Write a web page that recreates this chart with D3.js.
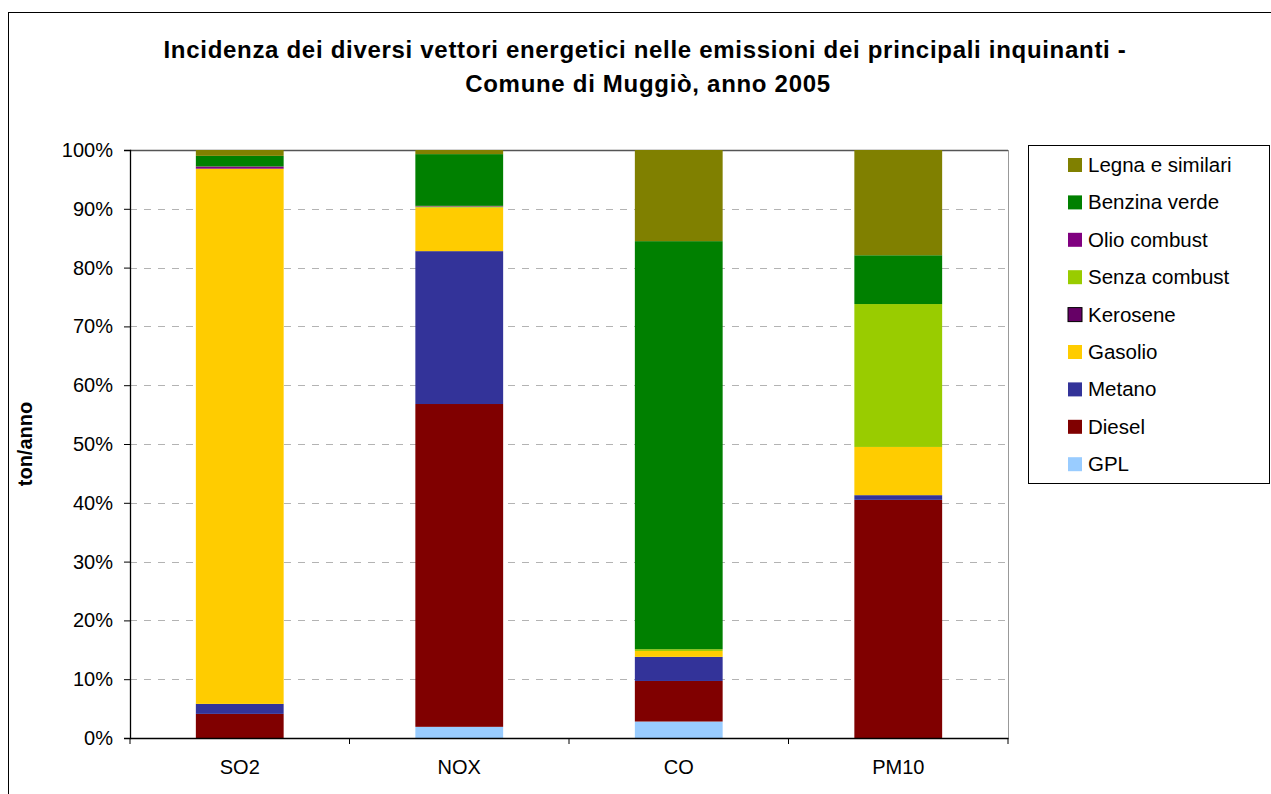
<!DOCTYPE html>
<html>
<head>
<meta charset="utf-8">
<script src="https://cdn.jsdelivr.net/npm/d3@7"></script>
<style>
  html, body { margin: 0; padding: 0; background: #fff; }
  svg { display: block; font-family: "Liberation Sans", Arial, sans-serif; }
</style>
</head>
<body>
<svg id="chart" width="1271" height="794"></svg>
<script>
// ---- Data ----
const categories = ["SO2", "NOX", "CO", "PM10"];
// series in stacking order (bottom -> top), values in % of the column
const seriesNames = ["GPL", "Diesel", "Metano", "Gasolio", "Kerosene", "Senza combust", "Olio combust", "Benzina verde", "Legna e similari"];
const GPL            = [0.0,  1.9,  2.8,  0.0];
const Diesel         = [4.1, 54.9,  6.9, 40.5];
const Metano         = [1.7, 26.0,  4.1,  0.8];
const Gasolio        = [91.0, 7.4,  1.0,  8.2];
const Kerosene       = [0.1,  0.0,  0.0,  0.0];
const SenzaCombust   = [0.0,  0.2,  0.3, 24.3];
const OlioCombust    = [0.3,  0.1,  0.0,  0.0];
const BenzinaVerde   = [1.8,  8.8, 69.4,  8.3];
const LegnaSimilari  = [1.0,  0.7, 15.5, 17.9];
const yTicks = [0, 0.1, 0.2, 0.3, 0.4, 0.5, 0.6, 0.7, 0.8, 0.9, 1.0];

const seriesValues = [GPL, Diesel, Metano, Gasolio, Kerosene, SenzaCombust, OlioCombust, BenzinaVerde, LegnaSimilari];
const colors = {
  "GPL": "#99ccff",
  "Diesel": "#800000",
  "Metano": "#333399",
  "Gasolio": "#ffcc00",
  "Kerosene": "#660066",
  "Senza combust": "#99cc00",
  "Olio combust": "#800080",
  "Benzina verde": "#008000",
  "Legna e similari": "#808000"
};

// ---- Build table ----
const table = categories.map((c, i) => {
  const row = { cat: c };
  seriesNames.forEach((s, j) => row[s] = seriesValues[j][i]);
  return row;
});

const svg = d3.select("#chart");

// outer frame
svg.append("rect").attr("x", 8.5).attr("y", 12.5).attr("width", 1400).attr("height", 1000)
  .attr("fill", "#fff").attr("stroke", "#000").attr("stroke-width", 1);

const plot = { left: 130, right: 1008, top: 150, bottom: 738 };

const x = d3.scaleBand().domain(categories).range([plot.left, plot.right]).padding(0);
const y = d3.scaleLinear().domain([0, 1]).range([plot.bottom, plot.top]);

const stack = d3.stack().keys(seriesNames).offset(d3.stackOffsetExpand);
const stacked = stack(table);

// gridlines
svg.append("g").selectAll("line").data(yTicks.filter(t => t > 0 && t < 1)).join("line")
  .attr("x1", plot.left).attr("x2", plot.right)
  .attr("y1", d => Math.round(y(d)) + 0.5).attr("y2", d => Math.round(y(d)) + 0.5)
  .attr("stroke", "#b3b3b3").attr("stroke-width", 1.2).attr("stroke-dasharray", "7,7");

// top & right plot border
svg.append("line").attr("x1", plot.left).attr("x2", plot.right).attr("y1", plot.top + 0.5).attr("y2", plot.top + 0.5)
  .attr("stroke", "#555").attr("stroke-width", 1.3);
svg.append("line").attr("x1", plot.right + 0.5).attr("x2", plot.right + 0.5).attr("y1", plot.top).attr("y2", plot.bottom)
  .attr("stroke", "#999").attr("stroke-width", 1);

// bars
const barFrac = 0.4;
const barW = x.bandwidth() * barFrac;
svg.append("g").selectAll("g").data(stacked).join("g")
  .attr("fill", d => colors[d.key])
  .selectAll("rect").data(d => d).join("rect")
  .attr("x", d => x(d.data.cat) + (x.bandwidth() - barW) / 2)
  .attr("width", barW)
  .attr("y", d => y(d[1]))
  .attr("height", d => Math.max(0, y(d[0]) - y(d[1])));

// y axis
const yAxis = d3.axisLeft(y).tickValues(yTicks).tickFormat(d3.format(".0%")).tickSize(6).tickPadding(11);
const gy = svg.append("g").attr("transform", `translate(${plot.left},0)`).call(yAxis);
gy.select(".domain").attr("stroke", "#000").attr("stroke-width", 1.3);
gy.selectAll(".tick line").attr("stroke", "#000");
gy.selectAll(".tick text").attr("font-size", 20).attr("fill", "#000")
  .attr("font-family", "Liberation Sans, Arial, sans-serif");

// x axis
const xAxis = d3.axisBottom(x).tickSize(0).tickPadding(22);
const gx = svg.append("g").attr("transform", `translate(0,${plot.bottom})`).call(xAxis);
gx.select(".domain").attr("stroke", "#000").attr("stroke-width", 1.5);
gx.selectAll(".tick text").attr("font-size", 20).attr("fill", "#000")
  .attr("font-family", "Liberation Sans, Arial, sans-serif");
// category boundary ticks
const bounds = categories.map(c => x(c)).concat([x(categories[categories.length - 1]) + x.bandwidth()]);
gx.append("g").selectAll("line").data(bounds).join("line")
  .attr("x1", d => d).attr("x2", d => d).attr("y1", 0).attr("y2", 6)
  .attr("stroke", "#000").attr("stroke-width", 1);

// y axis title
svg.append("text").attr("transform", `translate(32,${(plot.top + plot.bottom) / 2}) rotate(-90)`)
  .attr("text-anchor", "middle").attr("font-weight", "bold").attr("font-size", 20)
  .text("ton/anno");

// title
const title = svg.append("text").attr("text-anchor", "middle").attr("font-weight", "bold")
  .attr("font-size", 24).attr("letter-spacing", "0.7px");
title.append("tspan").attr("x", 645).attr("y", 58)
  .text("Incidenza dei diversi vettori energetici nelle emissioni dei principali inquinanti -");
title.append("tspan").attr("x", 648).attr("y", 92)
  .text("Comune di Muggiò, anno 2005");

// legend
const lg = svg.append("g");
lg.append("rect").attr("x", 1028.5).attr("y", 145.5).attr("width", 241).attr("height", 338)
  .attr("fill", "#fff").attr("stroke", "#000").attr("stroke-width", 1);
const legendOrder = seriesNames.slice().reverse();
const li = lg.selectAll("g.item").data(legendOrder).join("g").attr("class", "item")
  .attr("transform", (d, i) => `translate(1068,${165 + i * 37.4})`);
li.append("rect").attr("x", 0).attr("y", -7).attr("width", 14).attr("height", 14)
  .attr("fill", d => colors[d])
  .attr("stroke", d => d === "Kerosene" ? "#000" : "none").attr("stroke-width", 1);
li.append("text").attr("x", 20).attr("y", 7).attr("font-size", 20.5).text(d => d);
</script>
</body>
</html>
